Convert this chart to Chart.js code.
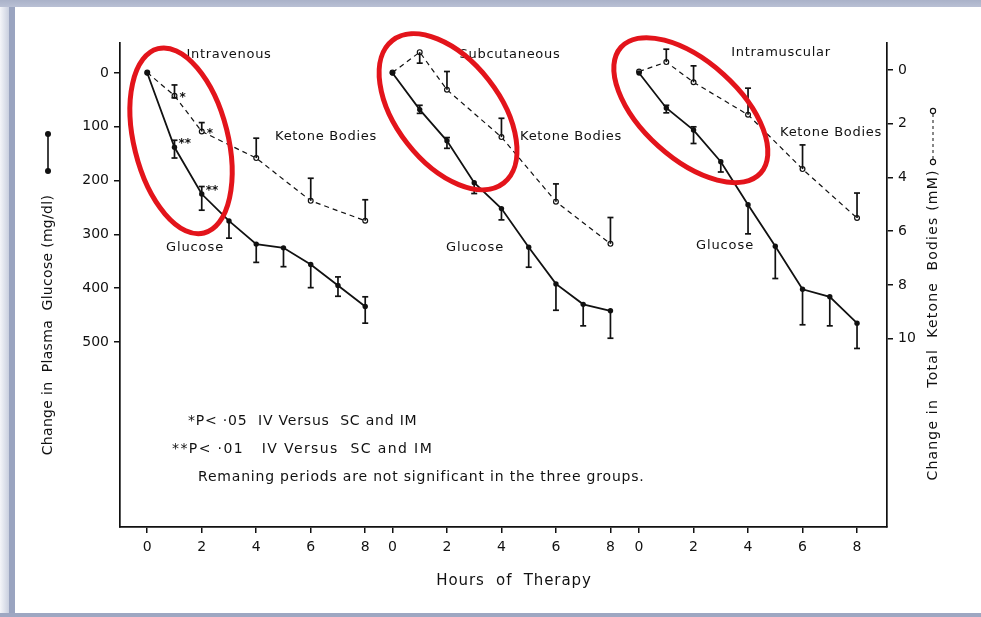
<!DOCTYPE html>
<html>
<head>
<meta charset="utf-8">
<script src="https://cdn.jsdelivr.net/npm/chart.js@4/dist/chart.umd.min.js"></script>
<style>
  html, body { margin: 0; padding: 0; background: #fff; }
  #wrap { position: relative; width: 981px; height: 617px; overflow: hidden; background: #fff; }
  #shadeL { position: absolute; left: 0; top: 0; width: 9px; height: 617px; background: linear-gradient(to right, #f4f5f9, #c9cfdf); }
  #bandL { position: absolute; left: 9px; top: 6px; width: 6px; height: 611px; background: #9aa4c0; }
  #bandT { position: absolute; left: 0; top: 0; width: 981px; height: 7px; background: linear-gradient(to bottom, #aab2c9, #b9c0d4); }
  #bandB { position: absolute; left: 0; top: 613px; width: 981px; height: 4px; background: #9ea7c2; }
  canvas { position: absolute; left: 0; top: 0; }
</style>
</head>
<body>
<div id="wrap">
  <canvas id="c" width="981" height="617"></canvas>
  <div id="shadeL"></div><div id="bandL"></div><div id="bandT"></div><div id="bandB"></div>
</div>
<script>
// ---------------- DATA ----------------
const panelNames = ['Intravenous', 'Subcutaneous', 'Intramuscular'];
const glucoseHours = [0, 1, 2, 3, 4, 5, 6, 7, 8];
const ketoneHours = [0, 1, 2, 4, 6, 8];
const hourTickLabels = ['0', '2', '4', '6', '8'];
const hourTickValues = [0, 2, 4, 6, 8];
const glucoseTicks = [0, 100, 200, 300, 400, 500];
const ketoneTicks = [0, 2, 4, 6, 8, 10];

// Change in plasma glucose (mg/dl), mean and error-bar ends
const glucoseIV    = [0, 138, 225, 275, 318, 325, 356, 395, 434];
const glucoseIVLo  = [0, 125, 211, 275, 318, 325, 356, 379, 416];
const glucoseIVHi  = [0, 158, 255, 307, 352, 360, 399, 415, 465];
const glucoseSC    = [0, 68, 126, 204, 252, 324, 392, 430, 442];
const glucoseSCLo  = [0, 60, 120, 204, 252, 324, 392, 430, 442];
const glucoseSCHi  = [0, 75, 140, 224, 273, 361, 441, 470, 493];
const glucoseIM    = [0, 65, 106, 165, 245, 322, 402, 416, 465];
const glucoseIMLo  = [0, 60, 100, 165, 245, 322, 402, 416, 465];
const glucoseIMHi  = [0, 74, 131, 184, 299, 382, 468, 470, 512];

// Change in total ketone bodies (mM), mean and error-bar ends
const ketoneIV   = [0.1, 0.96, 2.29, 3.28, 4.87, 5.61];
const ketoneIVLo = [0.1, 0.56, 1.96, 2.54, 4.03, 4.83];
const ketoneIVHi = [0.1, 1.04, 2.29, 3.28, 4.87, 5.61];
const ketoneSC   = [0.1, -0.66, 0.74, 2.5, 4.9, 6.47];
const ketoneSCLo = [0.1, -0.66, 0.06, 1.8, 4.24, 5.49];
const ketoneSCHi = [0.1, -0.25, 0.74, 2.5, 4.9, 6.47];
const ketoneIM   = [0.06, -0.29, 0.46, 1.67, 3.69, 5.51];
const ketoneIMLo = [0.06, -0.77, -0.15, 0.68, 2.79, 4.58];
const ketoneIMHi = [0.06, -0.29, 0.46, 1.67, 3.69, 5.51];

// Red highlight ellipses: centre in (hour, glucose) data units
const highlightHours = [1.24, 2.04, 1.9];
const highlightGlucose = [126, 72, 69];

// ---------------- LAYOUT ----------------
const panelOffsets = [0, 9, 18.05];
const highlightShape = [ // [rx, ry, rotation deg] in pixels
  [47, 95, -14], [51.6, 90.4, -38], [48.5, 94, -48]
];
const INK = '#111';
const FONT = '"DejaVu Sans", sans-serif';

const glucoseSets = [
  [glucoseIV, glucoseIVLo, glucoseIVHi],
  [glucoseSC, glucoseSCLo, glucoseSCHi],
  [glucoseIM, glucoseIMLo, glucoseIMHi]
];
const ketoneSets = [
  [ketoneIV, ketoneIVLo, ketoneIVHi],
  [ketoneSC, ketoneSCLo, ketoneSCHi],
  [ketoneIM, ketoneIMLo, ketoneIMHi]
];

function pts(hrs, vals, off) { return hrs.map((h, i) => ({ x: h + off, y: vals[i] })); }

const datasets = [];
const errorSpecs = [];
panelNames.forEach((name, p) => {
  const off = panelOffsets[p];
  const [gv, glo, ghi] = glucoseSets[p];
  const [kv, klo, khi] = ketoneSets[p];
  datasets.push({
    label: name + ' glucose', yAxisID: 'yG',
    data: pts(glucoseHours, gv, off),
    borderColor: INK, borderWidth: 1.8, pointRadius: 2.7,
    pointBackgroundColor: INK, pointBorderColor: INK, pointBorderWidth: 0, tension: 0
  });
  datasets.push({
    label: name + ' ketone', yAxisID: 'yK',
    data: pts(ketoneHours, kv, off),
    borderColor: INK, borderWidth: 1.2, borderDash: [5, 4], pointRadius: 2.4,
    pointBackgroundColor: '#fff', pointBorderColor: INK, pointBorderWidth: 1.2, tension: 0
  });
  errorSpecs.push({ axis: 'yG', hrs: glucoseHours, off, v: gv, lo: glo, hi: ghi });
  errorSpecs.push({ axis: 'yK', hrs: ketoneHours, off, v: kv, lo: klo, hi: khi });
});

const xTickVals = [];
const xTickText = {};
panelOffsets.forEach(off => hourTickValues.forEach((h, i) => {
  const v = +(h + off).toFixed(3);
  xTickVals.push(v); xTickText[v] = hourTickLabels[i];
}));

const errorBars = {
  id: 'errorBars',
  afterDatasetsDraw(chart) {
    const ctx = chart.ctx, xs = chart.scales.x;
    ctx.save();
    ctx.strokeStyle = INK; ctx.lineWidth = 1.7; ctx.setLineDash([]);
    errorSpecs.forEach(s => {
      const ys = chart.scales[s.axis];
      s.hrs.forEach((h, i) => {
        if (s.lo[i] === s.hi[i]) return;
        const px = xs.getPixelForValue(h + s.off);
        const y1 = ys.getPixelForValue(s.lo[i]);
        const y2 = ys.getPixelForValue(s.hi[i]);
        ctx.beginPath(); ctx.moveTo(px, y1); ctx.lineTo(px, y2); ctx.stroke();
        [[s.lo[i], y1], [s.hi[i], y2]].forEach(([val, py]) => {
          if (val !== s.v[i]) { ctx.beginPath(); ctx.moveTo(px - 3, py); ctx.lineTo(px + 3, py); ctx.stroke(); }
        });
      });
    });
    ctx.restore();
  }
};

function txt(ctx, s, x, y, spacing) {
  ctx.letterSpacing = (spacing || 0) + 'px';
  ctx.fillText(s, x, y);
  ctx.letterSpacing = '0px';
}

const annotations = {
  id: 'annotations',
  afterDraw(chart) {
    const ctx = chart.ctx, xs = chart.scales.x, yG = chart.scales.yG, yK = chart.scales.yK;
    ctx.save();
    ctx.fillStyle = INK; ctx.strokeStyle = INK;
    ctx.textBaseline = 'middle';
    ctx.font = '13px ' + FONT; ctx.textAlign = 'center';
    // panel titles
    [[229, 55], [510, 55], [781, 53]].forEach(([x, y], i) => txt(ctx, panelNames[i], x, y, 0.7));
    // series labels
    [[326, 137], [571, 137], [831, 133]].forEach(([x, y]) => txt(ctx, 'Ketone Bodies', x, y, 0.7));
    [[195, 248], [475, 248], [725, 246]].forEach(([x, y]) => txt(ctx, 'Glucose', x, y, 0.9));
    // significance stars (anchored on IV data points)
    ctx.textAlign = 'left'; ctx.font = 'bold 12px ' + FONT;
    [1, 2].forEach(i => {
      ctx.fillText('*', xs.getPixelForValue(ketoneHours[i]) + 5, yK.getPixelForValue(ketoneIV[i]) + 2);
      ctx.fillText('**', xs.getPixelForValue(glucoseHours[i]) + 4, yG.getPixelForValue(glucoseIV[i]) - 3);
    });
    // footnotes
    ctx.font = '14px ' + FONT;
    txt(ctx, '*P< ·05  IV Versus  SC and IM', 188, 421, 0.8);
    txt(ctx, '**P< ·01   IV Versus  SC and IM', 172, 449, 1.4);
    txt(ctx, 'Remaning periods are not significant in the three groups.', 198, 477, 0.8);
    // x title
    ctx.textAlign = 'center'; ctx.font = '15px ' + FONT;
    txt(ctx, 'Hours  of  Therapy', 514, 581, 0.9);
    // left y title + symbol
    ctx.save();
    ctx.translate(48, 325); ctx.rotate(-Math.PI / 2);
    ctx.font = '14px ' + FONT;
    txt(ctx, 'Change in  Plasma  Glucose (mg/dl)', 0, 0, 0.3);
    ctx.restore();
    ctx.lineWidth = 1.6;
    ctx.beginPath(); ctx.moveTo(48, 134); ctx.lineTo(48, 171); ctx.stroke();
    [134, 171].forEach(y => { ctx.beginPath(); ctx.arc(48, y, 3, 0, Math.PI * 2); ctx.fill(); });
    // right y title + symbol
    ctx.save();
    ctx.translate(933, 325); ctx.rotate(-Math.PI / 2);
    ctx.font = '14px ' + FONT;
    txt(ctx, 'Change in  Total  Ketone  Bodies (mM)', 0, 0, 1.2);
    ctx.restore();
    ctx.lineWidth = 1; ctx.setLineDash([3, 3]);
    ctx.beginPath(); ctx.moveTo(933, 114); ctx.lineTo(933, 160); ctx.stroke();
    ctx.setLineDash([]);
    ctx.fillStyle = '#fff'; ctx.lineWidth = 1.1;
    [111, 162].forEach(y => { ctx.beginPath(); ctx.arc(933, y, 2.6, 0, Math.PI * 2); ctx.fill(); ctx.stroke(); });
    // red highlight ellipses
    ctx.strokeStyle = '#e3141b'; ctx.lineWidth = 5;
    highlightHours.forEach((h, p) => {
      const cx = xs.getPixelForValue(h + panelOffsets[p]);
      const cy = yG.getPixelForValue(highlightGlucose[p]);
      const [rx, ry, rot] = highlightShape[p];
      ctx.beginPath(); ctx.ellipse(cx, cy, rx, ry, rot * Math.PI / 180, 0, Math.PI * 2); ctx.stroke();
    });
    ctx.restore();
  }
};

const axisCommon = {
  grid: { drawOnChartArea: false, drawTicks: true, tickLength: 6, color: INK, lineWidth: 1.5 },
  border: { display: true, color: INK, width: 1.7 },
  ticks: { color: INK, font: { family: FONT, size: 14 }, padding: 5 }
};

new Chart(document.getElementById('c'), {
  type: 'line',
  data: { datasets },
  options: {
    responsive: false, animation: false, events: [],
    layout: { padding: { top: 43, left: 0, right: 0, bottom: 0 } },
    plugins: { legend: { display: false }, tooltip: { enabled: false } },
    scales: {
      x: {
        type: 'linear', min: -1, max: 27.15,
        ...axisCommon,
        ticks: { ...axisCommon.ticks, padding: 6, callback: v => xTickText[+v.toFixed(3)] ?? '' },
        afterBuildTicks: s => { s.ticks = xTickVals.map(v => ({ value: v })); },
        afterFit: s => { s.height = 90; }
      },
      yG: {
        type: 'linear', position: 'left', reverse: true, min: -55.8, max: 843.9,
        ...axisCommon,
        afterBuildTicks: s => { s.ticks = glucoseTicks.map(v => ({ value: v })); },
        afterFit: s => { s.width = 120; }
      },
      yK: {
        type: 'linear', position: 'right', reverse: true, min: -1, max: 17,
        ...axisCommon,
        afterBuildTicks: s => { s.ticks = ketoneTicks.map(v => ({ value: v })); },
        afterFit: s => { s.width = 94; }
      }
    }
  },
  plugins: [errorBars, annotations]
});
</script>
</body>
</html>
